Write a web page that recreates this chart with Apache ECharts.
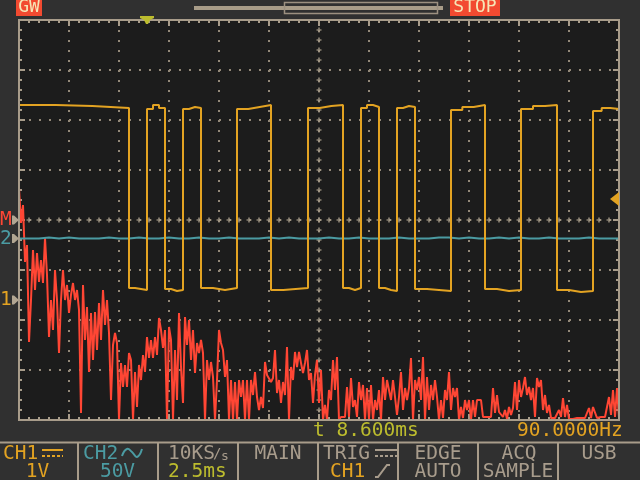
<!DOCTYPE html>
<html>
<head>
<meta charset="utf-8">
<script src="https://cdn.jsdelivr.net/npm/echarts@6/dist/echarts.min.js"></script>
<style>
html, body { margin: 0; padding: 0; background: #303030; }
#main { width: 640px; height: 480px; }
</style>
</head>
<body>
<div id="main"></div>
<script>
// horizontal: 2.5 ms/div, 12 divisions; vertical: 8 divisions
var timePerDiv = 2.5;
var divsX = 12;
var divsY = 8;

// CH1 : 1V/div DC, ground marker at -1.6 div
var ch1VoltsPerDiv = 1;
var ch1Pos = -1.6;
// square wave edges (ms), first segment is high
var ch1Edges = [0, 5.5, 6.4, 7.3, 8.2, 9.1, 10.9, 12.6, 14.45, 16.2, 17.1, 18.0, 18.9, 19.8, 21.6, 23.3, 25.1, 26.9, 28.7, 30];
// level readings inside each segment (V)
var ch1Levels = [
  [3.9, 3.88, 3.84], [0.24, 0.22, 0.2], [3.82, 3.9, 3.84], [0.22, 0.18, 0.2],
  [3.82, 3.86, 3.84], [0.24, 0.2, 0.24], [3.82, 3.86, 3.9], [0.2, 0.22, 0.24],
  [3.84, 3.88, 3.9], [0.24, 0.2, 0.24], [3.84, 3.9, 3.86], [0.24, 0.2, 0.18],
  [3.84, 3.88, 3.86], [0.22, 0.2, 0.18], [3.8, 3.86, 3.9], [0.22, 0.18, 0.2],
  [3.82, 3.88, 3.9], [0.2, 0.16, 0.18], [3.78, 3.84, 3.82]
];

// CH2 : 50V/div AC, nearly flat
var ch2VoltsPerDiv = 50;
var ch2Pos = -0.37;
var ch2Step = 0.5; // ms
var ch2Values = [
  0, 0, 1, 0, 1, 0, 0, 0, 1, 0,
  0, 1, 0, 0, 1, 0, 0, 1, 0, 0,
  1, 0, 0, 0, 1, 0, 1, 0, 0, 0,
  1, 0, 0, 1, 0, 0, 0, 1, 0, 0,
  0, 1, 1, 0, 1, 0, 0, 1, 0, 1,
  0, 0, 1, 0, 0, 0, 1, 0, 0, 0,
  0
];

// MATH (FFT) : 10 dB/div, centre marker
var mathDbPerDiv = 10;
var mathPos = 0;
var mathStep = 0.1; // ms per sample on screen
var mathValues = [
  6.4, -0.6, 3, -8.4, -5, -24.4, -16, -6, -14, -6.6,
  -12.4, -8, -12.6, -3.6, -11, -23.4, -16, -22, -10, -16,
  -26.6, -16, -10, -16, -13, -18.6, -15, -12.6, -16, -14,
  -18, -38.6, -13, -24, -17.4, -30.4, -18.6, -28, -18.4, -26,
  -16.6, -24, -14, -21, -16, -22.6, -36, -25, -22.6, -24.6,
  -40, -28.6, -33.4, -29, -33.4, -26.6, -28, -40, -30.4, -37.4,
  -29, -32, -27, -30.4, -23.4, -27.6, -24, -27.6, -23.4, -27,
  -19.6, -22, -25.6, -22, -40, -21.4, -24, -40, -26, -36,
  -18.6, -29.4, -36.6, -19.4, -25, -20, -28, -22, -30.6, -24.6,
  -26.6, -24, -26.6, -40, -28, -32, -28.4, -31.4, -40, -32,
  -22, -24.6, -26, -31.4, -28, -40, -32, -40, -32.4, -40,
  -32, -35.4, -32, -40, -32, -40, -32, -35, -30.4, -35.4,
  -38, -35.4, -37.6, -28.4, -31, -31.4, -32.4, -31.6, -26, -34.6,
  -32, -36.6, -32.4, -35, -25.4, -40, -29.4, -32, -26.4, -29.4,
  -26.4, -28.6, -30.6, -28.6, -26, -32, -30.6, -36.6, -31, -28,
  -36.6, -30, -40, -37, -40, -34, -36, -28, -34, -27.4,
  -40, -39.4, -39.8, -39.4, -33.4, -39.4, -31.6, -37.4, -36, -39.4,
  -32.4, -36, -33, -40, -33.6, -40, -33, -40, -36, -38,
  -34, -40, -31.4, -36, -32, -31.6, -36, -32, -35.4, -39,
  -35.4, -30.4, -38, -33.6, -36, -33.6, -27.6, -40, -32, -34,
  -31.4, -36, -27.4, -40, -31.4, -38, -33, -36, -32, -35.4,
  -40, -36, -39.6, -34, -36, -30.4, -38, -33.6, -35.4, -33.6,
  -40, -37.4, -39.6, -36, -38, -36, -40, -36, -39.4, -36,
  -36.2, -36, -39.4, -39.8, -39.4, -39.8, -39.4, -33.6, -38.6, -35,
  -38.4, -38, -39.4, -38, -39.8, -37.4, -39, -37.6, -32.4, -38,
  -32, -35.4, -33.6, -31.4, -35, -33.4, -36, -33.6, -39.4, -31.6,
  -33.4, -32, -38, -35, -38.6, -37, -39.6, -40, -39.6, -40,
  -38, -39.4, -35.6, -39.4, -37, -39.8, -40, -39.8, -40, -39.6,
  -39.8, -39.6, -39.8, -39.6, -39.8, -37.6, -39.6, -37.4, -37.6, -39.6,
  -39.2, -39.4, -39, -39.4, -39, -35.4, -39, -34, -39.4, -33.6, -39.6
];

var bg = '#303030';
var frameColor = '#a89c8a';
var dotColor = '#938878';
var orange = '#e3a322';
var teal = '#4b9ba2';
var red = '#ff4634';
var lime = '#bcbc2e';
var grey = '#a89c8c';
var badge = '#f24a30';
var cream = '#f6e6b6';

var tMax = timePerDiv * divsX;
var half = divsY / 2;

// build traces
var ch1Data = [];
for (var k = 0; k < ch1Edges.length - 1; k++) {
  var t0 = ch1Edges[k], t1 = ch1Edges[k + 1], lv = ch1Levels[k];
  for (var j = 0; j < lv.length; j++) {
    ch1Data.push([t0 + (t1 - t0) * j / lv.length, lv[j]]);
  }
}
ch1Data.push([tMax, ch1Levels[ch1Levels.length - 1][2]]);

var ch2Data = ch2Values.map(function (v, i) { return [i * ch2Step, v]; });
var mathData = mathValues.map(function (v, i) { return [i * mathStep, v]; });

// crosses along the centre lines
var crossData = [];
for (var t = timePerDiv / 5; t < tMax - 0.01; t += timePerDiv / 5) {
  crossData.push([t, 0]);
}
for (var d = -half + 0.2; d < half - 0.01; d += 0.2) {
  crossData.push([tMax / 2, d]);
}
var plusPath = 'path://M2,0H4V2H6V4H4V6H2V4H0V2H2Z';

function frameX(pos, grid) {
  return {
    type: 'value', position: pos, min: 0, max: tMax, interval: timePerDiv,
    axisLine: { show: false, onZero: false },
    axisTick: { show: true, inside: true, length: 6, lineStyle: { color: frameColor, width: 2 } },
    minorTick: { show: true, splitNumber: 5, length: 3, lineStyle: { color: frameColor, width: 2 } },
    axisLabel: { show: false },
    splitLine: { show: grid, lineStyle: { color: dotColor, width: 2, type: [2, 8] } },
    minorSplitLine: { show: false }
  };
}
function frameY(pos, grid) {
  return {
    type: 'value', position: pos, min: -half, max: half, interval: 1,
    axisLine: { show: false, onZero: false },
    axisTick: { show: true, inside: true, length: 6, lineStyle: { color: frameColor, width: 2 } },
    minorTick: { show: true, splitNumber: 5, length: 3, lineStyle: { color: frameColor, width: 2 } },
    axisLabel: { show: false },
    splitLine: { show: grid, lineStyle: { color: dotColor, width: 2, type: [2, 8] } },
    minorSplitLine: { show: false }
  };
}
function chanY(pos, perDiv) {
  return { type: 'value', show: false, min: (-half - pos) * perDiv, max: (half - pos) * perDiv };
}

var chart = echarts.init(document.getElementById('main'));
chart.setOption({
  backgroundColor: bg,
  animation: false,
  grid: { left: 19, top: 20, width: 600, height: 400, show: true, backgroundColor: '#1c1c1c', borderWidth: 0 },
  xAxis: [frameX('bottom', true), frameX('top', false)],
  yAxis: [frameY('left', true), frameY('right', false),
    chanY(ch1Pos, ch1VoltsPerDiv), chanY(ch2Pos, ch2VoltsPerDiv), chanY(mathPos, mathDbPerDiv)],
  series: [
    { type: 'scatter', xAxisIndex: 0, yAxisIndex: 0, data: crossData, symbol: plusPath, symbolSize: 5,
      itemStyle: { color: frameColor }, silent: true, z: 1 },
    { type: 'line', name: 'MATH', yAxisIndex: 4, data: mathData, symbol: 'none',
      lineStyle: { color: red, width: 2 }, silent: true, z: 2 },
    { type: 'line', name: 'CH2', yAxisIndex: 3, data: ch2Data, step: 'end', symbol: 'none',
      lineStyle: { color: teal, width: 2 }, silent: true, z: 3 },
    { type: 'line', name: 'CH1', yAxisIndex: 2, data: ch1Data, step: 'end', symbol: 'none',
      lineStyle: { color: orange, width: 2 }, silent: true, z: 4 }
  ]
});

// on-screen annotations
var FONT = '"DejaVu Sans Mono", monospace';
function T(text, x, y, color, align, size) {
  return { type: 'text', z: 100, silent: true,
    style: { text: text, x: x, y: y, fill: color, font: (size || 19.5) + 'px ' + FONT,
      align: align || 'left', verticalAlign: 'middle' } };
}
function L(pts, color, dash, w) {
  return { type: 'polyline', z: 100, silent: true, shape: { points: pts },
    style: { stroke: color, lineWidth: w || 2, fill: null, lineDash: dash || null } };
}
function P(pts, color) {
  return { type: 'polygon', z: 100, silent: true, shape: { points: pts }, style: { fill: color } };
}
function B(x, y, w, h, fill, stroke, lw) {
  return { type: 'rect', z: 90, silent: true, shape: { x: x, y: y, width: w, height: h },
    style: { fill: fill, stroke: stroke || null, lineWidth: lw || 0 } };
}
function marker(label, color, pos) {
  var y = chart.convertToPixel({ yAxisIndex: 0 }, pos);
  return [T(label, 0, y, color), P([[12, y - 4.5], [14, y - 4.5], [19, y], [14, y + 4.5], [12, y + 4.5]], '#b2a692')];
}

var g = [];
// frame
g.push({ type: 'rect', z: 60, silent: true, shape: { x: 19, y: 20, width: 600, height: 400 },
  style: { fill: null, stroke: frameColor, lineWidth: 2 } });
// top bar
g.push(B(16, 0, 26, 16, badge));
g.push(T('GW', 29, 7, cream, 'center', 18));
g.push(B(450, 0, 50, 16, badge));
g.push(T('STOP', 475, 7, cream, 'center', 18));
g.push(B(194, 6, 249, 4, '#a89c88'));
g.push(B(284.5, 2.5, 153, 11, null, '#9c9080', 1.5));
g.push(P([[140, 16], [154, 16], [154, 18], [150, 20], [148, 24], [146, 24], [144, 20], [140, 18]], lime));
// trigger level
g.push(P([[619, 192], [619, 206], [610, 199]], orange));
// channel markers
g = g.concat(marker('M', red, mathPos), marker('2', teal, ch2Pos), marker('1', orange, ch1Pos));
// readouts
g.push(T('t 8.600ms', 313, 430.5, lime));
g.push(T('90.0000Hz', 517, 430.5, orange));
// status bar
g.push(L([[0, 442.5], [640, 442.5]], frameColor));
[78, 158, 238, 318, 398, 478, 558].forEach(function (x) { g.push(L([[x, 443], [x, 480]], frameColor)); });
var r1 = 453.5, r2 = 471.5;
g.push(T('CH1', 3, r1, orange));
g.push(L([[42, 450], [63, 450]], orange));
g.push(L([[42, 456], [63, 456]], orange, [3, 2]));
g.push(T('1V', 37.5, r2, orange, 'center'));
g.push(T('CH2', 83, r1, teal));
g.push({ type: 'polyline', z: 100, silent: true,
  shape: { points: [[122, 456], [127, 449], [132, 452], [137, 457], [142, 449]], smooth: 0.5 },
  style: { stroke: teal, lineWidth: 2, fill: null } });
g.push(T('50V', 117.5, r2, teal, 'center'));
g.push(T('10KS', 168, r1, grey));
g.push(T('/', 213, r1 + 1, grey, 'left', 14));
g.push(T('s', 221, r1 + 3, grey, 'left', 13));
g.push(T('2.5ms', 168, r2, lime));
g.push(T('MAIN', 278, r1, grey, 'center'));
g.push(T('TRIG', 323, r1, grey));
g.push(L([[375, 450], [397, 450]], grey));
g.push(L([[375, 456], [397, 456]], grey, [3, 2]));
g.push(T('CH1', 330, r2, orange));
g.push(L([[375, 477], [378, 477], [387, 465], [390, 465]], grey));
g.push(T('EDGE', 438, r1, grey, 'center'));
g.push(T('AUTO', 438, r2, grey, 'center'));
g.push(T('ACQ', 519, r1, grey, 'center'));
g.push(T('SAMPLE', 518, r2, grey, 'center'));
g.push(T('USB', 599, r1, grey, 'center'));

chart.setOption({ graphic: g });
</script>
</body>
</html>
